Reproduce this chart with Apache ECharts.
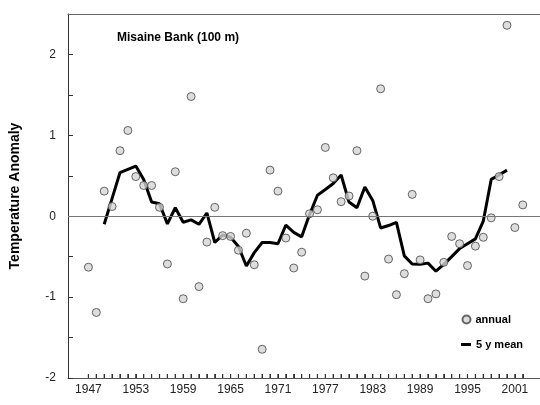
<!DOCTYPE html>
<html>
<head>
<meta charset="utf-8">
<script src="https://cdn.jsdelivr.net/npm/echarts@6/dist/echarts.min.js"></script>
<style>html,body{margin:0;padding:0;background:#fff}#c{width:540px;height:405px}</style>
</head>
<body>
<div id="c"></div>
<script>
var years = [];
for (var y = 1947; y <= 2002; y++) years.push(y);
var annual = [-0.63,-1.19,0.31,0.12,0.81,1.06,0.49,0.38,0.38,0.11,-0.59,0.55,-1.02,1.48,
  -0.87,-0.32,0.11,-0.24,-0.25,-0.42,-0.21,-0.6,-1.645,0.57,0.31,-0.27,-0.64,-0.445,
  0.03,0.08,0.85,0.475,0.18,0.25,0.81,-0.74,0.0,1.575,-0.53,-0.97,-0.71,0.27,
  -0.54,-1.02,-0.96,-0.57,-0.25,-0.34,-0.61,-0.37,-0.26,-0.02,0.49,2.36,-0.14,0.14];
var meanYears = [];
for (var m = 1949; m <= 2000; m++) meanYears.push(m);
var mean5 = [-0.10,0.22,0.54,0.58,0.62,0.455,0.175,0.155,-0.095,0.105,-0.075,-0.045,
  -0.10,0.04,-0.325,-0.23,-0.26,-0.375,-0.615,-0.45,-0.325,-0.325,-0.34,-0.11,-0.2,-0.255,
  0.02,0.26,0.33,0.405,0.51,0.175,0.105,0.36,0.195,-0.145,-0.115,-0.075,-0.49,-0.59,
  -0.595,-0.58,-0.68,-0.595,-0.5,-0.4,-0.34,-0.28,-0.06,0.455,0.51,0.57];
var xLabelYears = [1947,1953,1959,1965,1971,1977,1983,1989,1995,2001];
var yTickValues = [-2,-1.5,-1,-0.5,0,0.5,1,1.5,2];
var yLabelValues = [-2,-1,0,1,2];

var Y_MIN = -2, Y_MAX = 2.5;
var X_MIN = 1944.415, X_MAX = 2004.18;
var TICK_LEVEL = -1.975;

var annualData = years.map(function(y,i){return [y, annual[i]];});
var meanData = meanYears.map(function(y,i){return [y, mean5[i]];});
var yearTickData = years.map(function(y){return [y, TICK_LEVEL];});

var chart = echarts.init(document.getElementById('c'));
var font = 'Arial, "Liberation Sans", sans-serif';
var legendText = {fontFamily: font, fontSize: 11, fontWeight: 'bold', color: '#000'};
chart.setOption({
  animation: false,
  backgroundColor: '#fff',
  title: {
    text: 'Misaine Bank (100 m)', left: 112, top: 27,
    textStyle: {fontFamily: font, fontSize: 12, fontWeight: 'bold', color: '#000'}
  },
  legend: [{
    left: 456.5, top: 309, itemWidth: 8, itemHeight: 8, itemGap: 5,
    textStyle: legendText, selectedMode: false,
    data: [{name: 'annual', icon: 'circle'}]
  }, {
    left: 456, top: 334, itemWidth: 10, itemHeight: 3, itemGap: 5,
    textStyle: legendText, selectedMode: false,
    data: [{name: '5 y mean', icon: 'rect', itemStyle: {color: '#000', borderWidth: 0}}]
  }],
  grid: {left: 66, top: 14, right: 0, bottom: 27},
  xAxis: [{
    type: 'value', min: X_MIN, max: X_MAX,
    axisLine: {show: true, onZero: false, lineStyle: {color: '#555', width: 1}},
    axisTick: {show: true, inside: true, length: 4, customValues: years, lineStyle: {color: '#333', width: 1}},
    axisLabel: {customValues: xLabelYears, margin: 6, fontFamily: font, fontSize: 12, color: '#222',
      formatter: function(v){ return String(Math.round(v)); }},
    splitLine: {show: false}
  }, {
    type: 'value', position: 'top', min: X_MIN, max: X_MAX,
    axisLine: {show: true, onZero: false, lineStyle: {color: '#666', width: 1}},
    axisTick: {show: false}, axisLabel: {show: false}, splitLine: {show: false}
  }],
  yAxis: {
    type: 'value', min: Y_MIN, max: Y_MAX,
    name: 'Temperature Anomaly', nameLocation: 'middle', nameGap: 46, nameRotate: 90,
    nameTextStyle: {fontFamily: font, fontSize: 14, fontWeight: 'bold', color: '#000'},
    axisLine: {show: true, onZero: false, lineStyle: {color: '#333', width: 1}},
    axisTick: {show: true, inside: true, length: 5, customValues: yTickValues, lineStyle: {color: '#333'}},
    axisLabel: {customValues: yLabelValues, margin: 12, fontFamily: font, fontSize: 12, color: '#222'},
    splitLine: {show: false}
  },
  series: [{
    name: '5 y mean', type: 'line', data: meanData, symbol: 'none', z: 2,
    lineStyle: {color: '#000', width: 3}, itemStyle: {color: '#000'},
    markLine: {
      silent: true, symbol: 'none', label: {show: false},
      lineStyle: {color: '#777', width: 1, type: 'solid'},
      data: [{yAxis: 0}]
    }
  }, {
    name: 'annual', type: 'scatter', data: annualData, symbol: 'circle', symbolSize: 8, z: 3,
    itemStyle: {color: '#d4d4d4', borderColor: '#444', borderWidth: 1}
  }, {
    name: 'year ticks', type: 'scatter', data: yearTickData, symbol: 'rect',
    symbolSize: [1.2, 4], silent: true, clip: false, z: 5,
    itemStyle: {color: '#333', borderWidth: 0, opacity: 1}
  }]
});
</script>
</body>
</html>
